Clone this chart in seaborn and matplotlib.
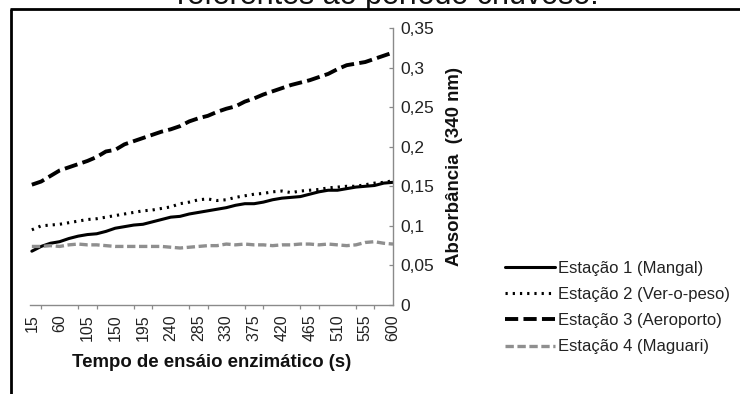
import matplotlib
matplotlib.use("Agg")
import matplotlib.pyplot as plt
import seaborn as sns
import pandas as pd
from matplotlib.patches import Rectangle
from matplotlib.lines import Line2D

# ---------------- data ----------------
times = [15, 30, 45, 60, 75, 90, 105, 120, 135, 150, 165, 180, 195, 210, 225,
         240, 255, 270, 285, 300, 315, 330, 345, 360, 375, 390, 405, 420, 435,
         450, 465, 480, 495, 510, 525, 540, 555, 570, 585, 600]

estacao1 = [0.068, 0.074, 0.078, 0.080, 0.084, 0.087, 0.089, 0.090, 0.093, 0.097,
            0.099, 0.101, 0.102, 0.105, 0.108, 0.111, 0.112, 0.115, 0.117, 0.119,
            0.121, 0.123, 0.126, 0.128, 0.128, 0.130, 0.133, 0.135, 0.136, 0.137,
            0.140, 0.143, 0.145, 0.145, 0.147, 0.149, 0.150, 0.151, 0.154, 0.155]

estacao2 = [0.095, 0.100, 0.101, 0.102, 0.104, 0.106, 0.108, 0.109, 0.111, 0.113,
            0.115, 0.117, 0.119, 0.120, 0.122, 0.124, 0.128, 0.130, 0.133, 0.134,
            0.132, 0.133, 0.136, 0.138, 0.140, 0.141, 0.143, 0.144, 0.142, 0.144,
            0.145, 0.146, 0.148, 0.149, 0.150, 0.150, 0.152, 0.154, 0.155, 0.157]

estacao3 = [0.152, 0.156, 0.163, 0.170, 0.174, 0.178, 0.182, 0.187, 0.194, 0.196,
            0.203, 0.207, 0.211, 0.215, 0.219, 0.222, 0.226, 0.232, 0.236, 0.239,
            0.244, 0.248, 0.251, 0.257, 0.261, 0.266, 0.270, 0.274, 0.278, 0.281,
            0.284, 0.288, 0.292, 0.298, 0.303, 0.305, 0.307, 0.311, 0.315, 0.319]

estacao4 = [0.074, 0.074, 0.075, 0.074, 0.076, 0.077, 0.076, 0.076, 0.075, 0.074,
            0.074, 0.074, 0.074, 0.074, 0.074, 0.073, 0.072, 0.073, 0.074, 0.075,
            0.075, 0.077, 0.076, 0.077, 0.076, 0.076, 0.075, 0.076, 0.076, 0.077,
            0.077, 0.076, 0.077, 0.076, 0.075, 0.076, 0.079, 0.080, 0.078, 0.077]

series_names = ["Estação 1 (Mangal)", "Estação 2 (Ver-o-peso)",
                "Estação 3 (Aeroporto)", "Estação 4 (Maguari)"]
y_ticks = [0, 0.05, 0.1, 0.15, 0.2, 0.25, 0.3, 0.35]
y_tick_labels = ["0", "0,05", "0,1", "0,15", "0,2", "0,25", "0,3", "0,35"]
title_text = "referentes ao período chuvoso."
xlabel_text = "Tempo de ensáio enzimático (s)"
ylabel_text = "Absorbância  (340 nm)"

# ---------------- style ----------------
sns.set_style("white")
plt.rcParams["font.family"] = ["Liberation Sans", "DejaVu Sans"]
plt.rcParams["lines.scale_dashes"] = False

W, H = 740, 394
fig = plt.figure(figsize=(W / 100, H / 100), dpi=100)
fig.patch.set_facecolor("white")

# title (partially hidden above the picture edge and behind the chart frame)
fig.text(177 / W, 1 - 4 / H, title_text, fontsize=22, color="#111111",
         ha="left", va="baseline", zorder=-3)
# white chart area with frame covering the title descenders
fig.patches.append(Rectangle((11 / W, 0), 1, 1 - 9.3 / H, transform=fig.transFigure,
                             facecolor="white", edgecolor="none", zorder=-2))
fig.lines.append(Line2D([10 / W, 1], [1 - 9.3 / H, 1 - 9.3 / H], transform=fig.transFigure,
                        color="black", lw=2.0, zorder=5, solid_capstyle="butt"))
fig.lines.append(Line2D([11.3 / W, 11.3 / W], [0, 1 - 9.3 / H], transform=fig.transFigure,
                        color="black", lw=2.0, zorder=5, solid_capstyle="butt"))

# axes
x_left, x_right = 30, 393
y_top, y_bot = 28, 305
ax = fig.add_axes([x_left / W, 1 - y_bot / H, (x_right - x_left) / W, (y_bot - y_top) / H])
ax.set_facecolor("none")

pos = list(range(len(times)))
df = pd.DataFrame({"pos": pos, "t": times,
                   series_names[0]: estacao1, series_names[1]: estacao2,
                   series_names[2]: estacao3, series_names[3]: estacao4})

styles = [
    dict(color="black", lw=2.2, dashes=None),
    dict(color="black", lw=2.2, dashes=(1.6, 3.6)),
    dict(color="black", lw=2.8, dashes=(9.5, 3.8)),
    dict(color="#8f8f8f", lw=2.4, dashes=(6.0, 2.6)),
]
handles = []
for name, st in zip(series_names, styles):
    sns.lineplot(data=df, x="pos", y=name, ax=ax, color=st["color"], lw=st["lw"],
                 label=name, legend=False)
    line = ax.lines[-1]
    if st["dashes"] is not None:
        line.set_dashes(st["dashes"])
        line.set_dash_capstyle("butt")
    handles.append(line)

ax.set_xlim(-0.2, len(times) - 1)
ax.set_ylim(0, 0.35)

# spines
for s in ["left", "top"]:
    ax.spines[s].set_visible(False)
for s in ["right", "bottom"]:
    ax.spines[s].set_visible(True)
    ax.spines[s].set_color("#8a8a8a")
    ax.spines[s].set_linewidth(1.0)

# y axis on the right
ax.yaxis.tick_right()
ax.set_yticks(y_ticks)
ax.set_yticklabels(y_tick_labels)
ax.tick_params(axis="y", which="major", direction="in", length=3, width=0.9,
               color="#8a8a8a", labelsize=12.5, labelcolor="#222222", pad=5,
               right=True, left=False)

# x axis: labels every 45 s, tick marks every 30 s
ax.set_xticks(pos[::3])
ax.set_xticklabels([str(t) for t in times[::3]], rotation=90)
ax.set_xticks(pos[1::2], minor=True)
ax.tick_params(axis="x", which="major", length=0, labelsize=11.5,
               labelcolor="#222222", pad=7)
ax.tick_params(axis="x", which="minor", direction="out", length=3, width=0.9,
               color="#8a8a8a", bottom=True)

ax.set_xlabel(xlabel_text, fontsize=13.4, fontweight="bold", color="#111111", labelpad=9)
ax.yaxis.set_label_position("right")
ax.set_ylabel(ylabel_text, fontsize=13.4, fontweight="bold", color="#111111",
              labelpad=9, rotation=90)
ax.grid(False)

fig.legend(handles, series_names, loc="center left",
           bbox_to_anchor=(505 / W, 1 - 307.5 / H), frameon=False,
           fontsize=12, handlelength=3.0, handletextpad=0.15, labelspacing=0.68,
           borderpad=0, borderaxespad=0, labelcolor="#222222")

fig.savefig("out.png", dpi=100, facecolor="white")
